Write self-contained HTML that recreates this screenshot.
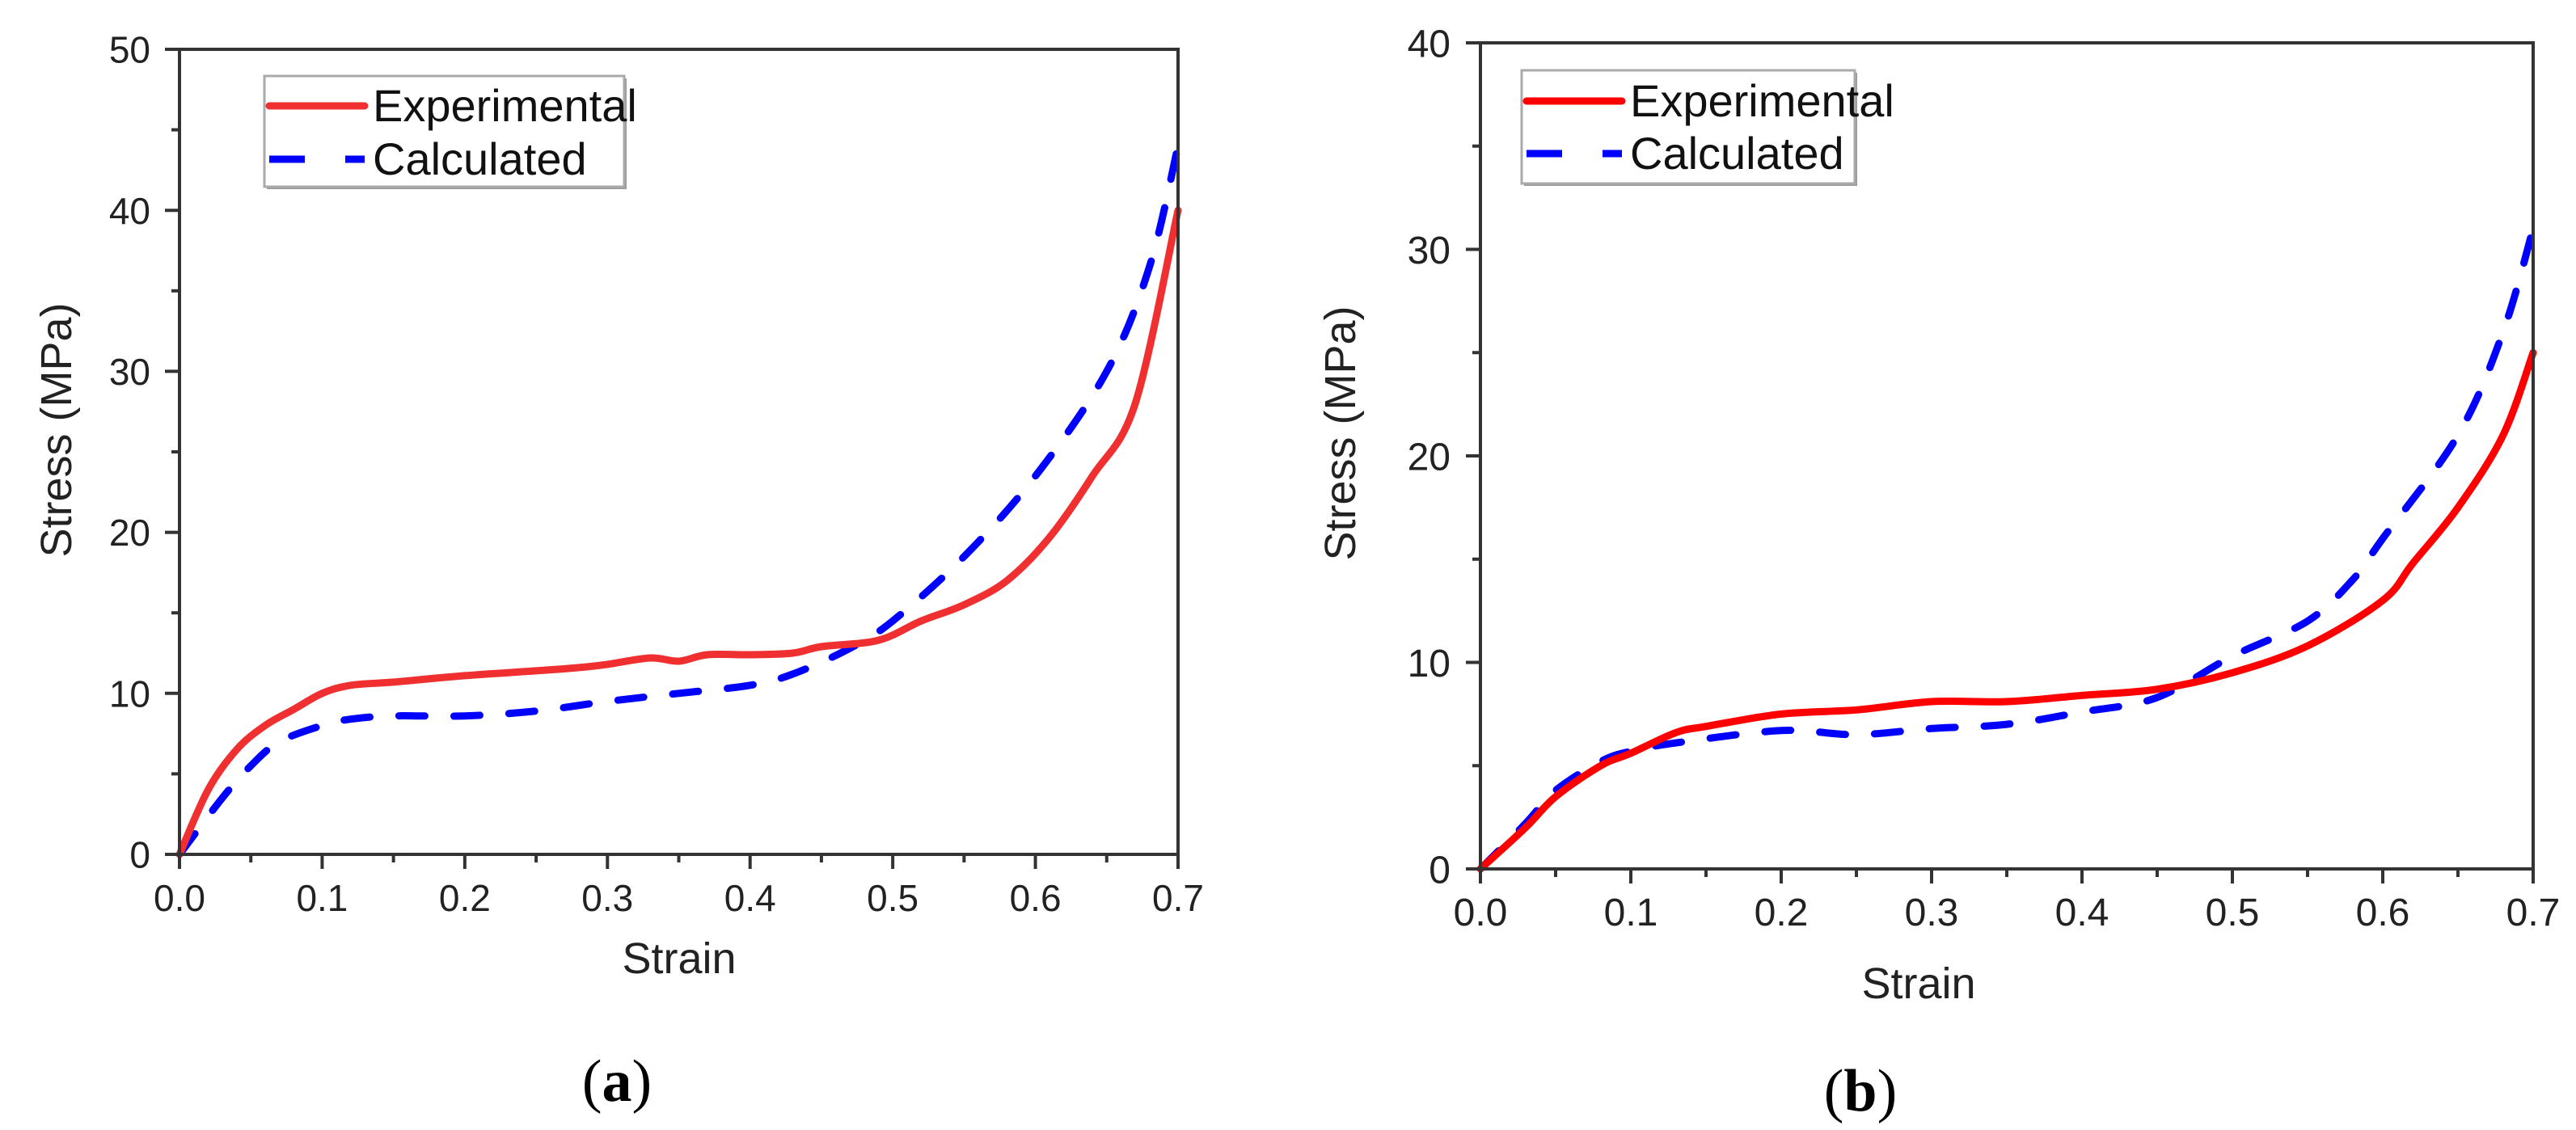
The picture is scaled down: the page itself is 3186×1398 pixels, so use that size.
<!DOCTYPE html>
<html><head><meta charset="utf-8"><style>
html,body{margin:0;padding:0;background:#fff;}
svg{display:block;font-family:"Liberation Sans",Arial,sans-serif;}
</style></head><body>
<svg id="fig" width="3186" height="1398" viewBox="0 0 3186 1398"></svg>
<script>
const xTicks=[0,0.1,0.2,0.3,0.4,0.5,0.6,0.7];
const xTickLabels=["0.0","0.1","0.2","0.3","0.4","0.5","0.6","0.7"];
const aYTicks=[0,10,20,30,40,50];
const bYTicks=[0,10,20,30,40];
const aExpX=[0,0.02,0.04,0.06,0.08,0.1,0.12,0.15,0.2,0.25,0.28,0.3,0.33,0.35,0.37,0.4,0.43,0.45,0.49,0.52,0.55,0.58,0.61,0.64,0.67,0.7];
const aExpY=[0,4,6.5,8,9,10,10.5,10.7,11.1,11.4,11.6,11.8,12.2,12,12.4,12.4,12.5,12.9,13.3,14.5,15.5,17,19.7,23.5,28,40];
const aCalX=[0,0.03,0.05,0.07,0.1,0.12,0.15,0.2,0.25,0.3,0.35,0.4,0.43,0.47,0.5,0.55,0.6,0.65,0.68,0.7];
const aCalY=[0,3.5,5.5,7,8,8.4,8.6,8.6,8.9,9.5,10,10.5,11.2,12.8,14.5,18.5,23.5,30,36.5,44];
const bExpX=[0,0.03,0.05,0.08,0.1,0.13,0.15,0.2,0.25,0.3,0.35,0.4,0.45,0.5,0.55,0.6,0.62,0.65,0.68,0.7];
const bExpY=[0,2,3.5,5,5.6,6.6,6.9,7.5,7.7,8.1,8.1,8.4,8.7,9.5,10.8,13,14.8,17.5,21,25];
const bCalX=[0,0.03,0.05,0.08,0.1,0.13,0.2,0.25,0.3,0.35,0.4,0.45,0.5,0.55,0.58,0.6,0.65,0.68,0.7];
const bCalY=[0,2.2,3.8,5.2,5.7,6.1,6.7,6.5,6.8,7,7.6,8.3,10.3,12,14,16,21,26,31];

const NS="http://www.w3.org/2000/svg";
const svg=document.getElementById('fig');
function mk(tag,attrs,parent){const e=document.createElementNS(NS,tag);for(const k in attrs)e.setAttribute(k,attrs[k]);(parent||svg).appendChild(e);return e;}

function smoothPath(pts){
  let d='M'+pts[0][0].toFixed(1)+' '+pts[0][1].toFixed(1);
  for(let i=0;i<pts.length-1;i++){
    const p0=pts[Math.max(0,i-1)],p1=pts[i],p2=pts[i+1],p3=pts[Math.min(pts.length-1,i+2)];
    const c1x=p1[0]+(p2[0]-p0[0])/6,c1y=p1[1]+(p2[1]-p0[1])/6;
    const c2x=p2[0]-(p3[0]-p1[0])/6,c2y=p2[1]-(p3[1]-p1[1])/6;
    d+=`C${c1x.toFixed(1)} ${c1y.toFixed(1)} ${c2x.toFixed(1)} ${c2y.toFixed(1)} ${p2[0].toFixed(1)} ${p2[1].toFixed(1)}`;
  }
  return d;
}

function panel(p){
  const g=mk('g',{});
  
  
  const sx=v=>p.x0+(v-0)/(0.7)*(p.x1-p.x0);
  const sy=v=>p.y1-(v/p.ymax)*(p.y1-p.y0);
  function line(xs,ys,color,dash,nm){
    const pts=xs.map((x,i)=>[sx(x),sy(ys[i])]);
    const a={d:smoothPath(pts),fill:'none',stroke:color,'stroke-width':p.lw,'stroke-linejoin':'round','stroke-linecap':'round'};
    if(dash)a['stroke-dasharray']=dash;
    const e=mk('path',a,g);
    
    
  }
  line(p.cx,p.cy,'#0000ff','32 36',p.name+'-calculated-line');
  line(p.ex,p.ey,p.red,null,p.name+'-experimental-line');
  const fr=mk('rect',{x:p.x0,y:p.y0,width:p.x1-p.x0,height:p.y1-p.y0,fill:'none',stroke:'#333','stroke-width':4},g);
  
  
  xTicks.forEach((t,i)=>{
    const X=sx(t);
    mk('line',{x1:X,x2:X,y1:p.y1,y2:p.y1+18,stroke:'#333','stroke-width':4},g);
    if(i<xTicks.length-1){const m=sx(t+0.05);mk('line',{x1:m,x2:m,y1:p.y1,y2:p.y1+10,stroke:'#333','stroke-width':4},g);}
    const tx=mk('text',{x:X,y:p.xly,'font-size':p.fs,'text-anchor':'middle',fill:'#222'},g);
    tx.textContent=xTickLabels[i];
    
    
  });
  p.yt.forEach((t,i)=>{
    const Y=sy(t);
    mk('line',{x1:p.x0-18,x2:p.x0,y1:Y,y2:Y,stroke:'#333','stroke-width':4},g);
    if(i<p.yt.length-1){const m=sy(t+5);mk('line',{x1:p.x0-10,x2:p.x0,y1:m,y2:m,stroke:'#333','stroke-width':4},g);}
    const tx=mk('text',{x:p.ylx,y:Y+p.fs*0.36,'font-size':p.fs,'text-anchor':'end',fill:'#222'},g);
    tx.textContent=String(t);
    
    
  });
  const xt=mk('text',{x:p.xtx,y:p.xty,'font-size':54,'text-anchor':'middle',fill:'#222'},g);
  xt.textContent='Strain';
  
  
  const yt=mk('text',{x:0,y:0,'font-size':54,'text-anchor':'middle',fill:'#222',transform:`translate(${p.ytx},${p.yty}) rotate(-90)`},g);
  yt.textContent='Stress (MPa)';
  
  
  const L=p.leg;
  const lg=mk('g',{},g);
  
  
  mk('rect',{x:L.x+3,y:L.y+3,width:L.w,height:L.h,fill:'#999'},lg);
  mk('rect',{x:L.x,y:L.y,width:L.w,height:L.h,fill:'#fff',stroke:'#aaa','stroke-width':3},lg);
  const le1=mk('line',{x1:L.x+6,x2:L.x+124,y1:L.r1,y2:L.r1,stroke:p.red,'stroke-width':p.lw,'stroke-linecap':'round'},lg);
  
  
  const le2=mk('line',{x1:L.x+6,x2:L.x+124,y1:L.r2,y2:L.r2,stroke:'#0000ff','stroke-width':p.lw,'stroke-dasharray':'44 50','stroke-linecap':'butt'},lg);
  
  
  const t1=mk('text',{x:L.x+134,y:L.r1+19,'font-size':56,fill:'#111'},lg);t1.textContent='Experimental';
  
  
  const t2=mk('text',{x:L.x+134,y:L.r2+19,'font-size':56,fill:'#111'},lg);t2.textContent='Calculated';
  
  
  const cap=mk('text',{x:p.capx,y:p.capy,'font-size':74,'text-anchor':'middle',fill:'#000','font-family':'"Liberation Serif",serif'},g);
  cap.innerHTML='(<tspan font-weight="bold">'+p.cap+'</tspan>)';
  
  
}

panel({name:'panel-a',x0:222,x1:1457,y0:61,y1:1057,ymax:50,yt:aYTicks,ex:aExpX,ey:aExpY,cx:aCalX,cy:aCalY,
  red:'#f03030',lw:9,fs:46,xly:1127,ylx:186,xtx:840,xty:1204,ytx:88,yty:532,
  leg:{x:327,y:94,w:445,h:137,r1:131,r2:197},capx:763,capy:1362,cap:'a'});
panel({name:'panel-b',x0:1831,x1:3133,y0:53,y1:1075,ymax:40,yt:bYTicks,ex:bExpX,ey:bExpY,cx:bCalX,cy:bCalY,
  red:'#ff0000',lw:9,fs:48,xly:1145,ylx:1794,xtx:2373,xty:1235,ytx:1676,yty:536,
  leg:{x:1882,y:87,w:412,h:140,r1:125,r2:190},capx:2301,capy:1374,cap:'b'});
</script>
</body></html>
